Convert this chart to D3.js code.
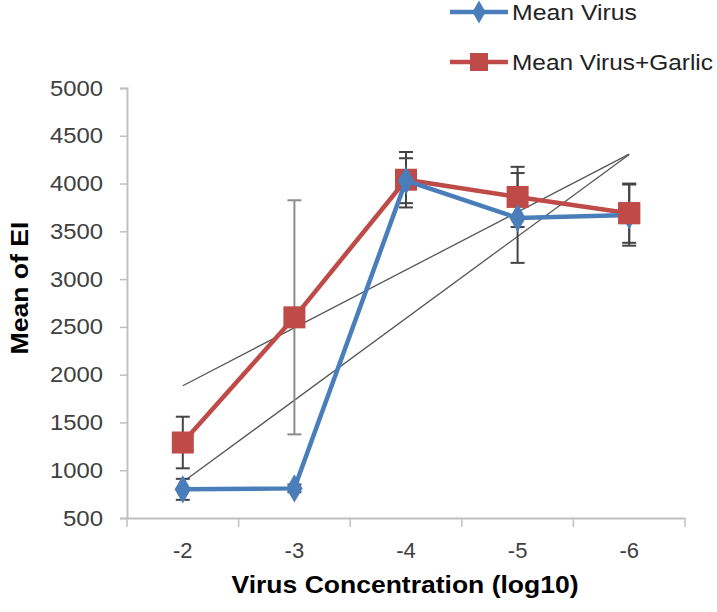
<!DOCTYPE html>
<html><head><meta charset="utf-8">
<script src="https://cdn.jsdelivr.net/npm/d3@7/dist/d3.min.js"></script>
<style>body{margin:0;background:#fff}svg{display:block}</style>
</head><body>
<script>
const categories = ["-2", "-3", "-4", "-5", "-6"];
const virusMean = [800, 810, 4030, 3640, 3670];
const virusErr = [110, 40, 235, 470, 320];
const garlicMean = [1290, 2600, 4040, 3860, 3690];
const garlicErr = [270, 1225, 290, 315, 310];
const yTicks = [500, 1000, 1500, 2000, 2500, 3000, 3500, 4000, 4500, 5000];
const seriesNames = ["Mean Virus", "Mean Virus+Garlic"];

const W = 717, H = 612;
const svg = d3.select("body").append("svg").attr("width", W).attr("height", H);
const font = "Liberation Sans, Arial, sans-serif";

const x = d3.scaleBand().domain(categories).range([127, 685]);
const y = d3.scaleLinear().domain([500, 5000]).range([518, 88]);
const cx = c => x(c) + x.bandwidth() / 2;

// axes
const axisColor = "#c0c0c0";
const yAxis = svg.append("g").attr("transform", "translate(127,0)")
  .call(d3.axisLeft(y).tickValues(yTicks).tickFormat(d3.format("d")).tickSize(7).tickPadding(17));
yAxis.select(".domain").attr("stroke", axisColor).attr("stroke-width", 2);
yAxis.selectAll(".tick line").attr("stroke", axisColor).attr("stroke-width", 1.5);
yAxis.selectAll("text").attr("font-family", font).attr("font-size", 22).attr("fill", "#404040")
  .attr("textLength", d => d === 500 ? 40 : 53).attr("lengthAdjust", "spacingAndGlyphs");

const xAxis = svg.append("g").attr("transform", "translate(0,518)")
  .call(d3.axisBottom(x).tickSize(0).tickPadding(24));
xAxis.select(".domain").attr("stroke", axisColor).attr("stroke-width", 2);
xAxis.selectAll("text").attr("font-family", font).attr("font-size", 22).attr("fill", "#404040");
// boundary ticks
const bounds = categories.map(c => x(c)).concat([x.range()[1]]);
svg.append("g").selectAll("line").data(bounds).join("line")
  .attr("x1", d => d).attr("x2", d => d).attr("y1", 518).attr("y2", 527)
  .attr("stroke", axisColor).attr("stroke-width", 1.5);

// axis titles
svg.append("text").attr("transform", "translate(28,288) rotate(-90)")
  .attr("text-anchor", "middle").attr("font-family", font).attr("font-weight", "bold")
  .attr("font-size", 24).attr("fill", "#000").attr("textLength", 133).attr("lengthAdjust", "spacingAndGlyphs")
  .text("Mean of EI");
svg.append("text").attr("x", 405).attr("y", 593)
  .attr("text-anchor", "middle").attr("font-family", font).attr("font-weight", "bold")
  .attr("font-size", 24).attr("fill", "#000").attr("textLength", 347).attr("lengthAdjust", "spacingAndGlyphs")
  .text("Virus Concentration (log10)");

// trendlines (linear fits of each series)
function fit(vals) {
  const n = vals.length, xs = vals.map((v, i) => i);
  const mx = d3.mean(xs), my = d3.mean(vals);
  const b = d3.sum(xs.map((xi, i) => (xi - mx) * (vals[i] - my))) / d3.sum(xs.map(xi => (xi - mx) ** 2));
  const a = my - b * mx;
  return [a, a + b * (n - 1)];
}
[virusMean, garlicMean].forEach(vals => {
  const [v0, v1] = fit(vals);
  svg.append("line").attr("x1", cx(categories[0])).attr("y1", y(v0))
    .attr("x2", cx(categories[categories.length - 1])).attr("y2", y(v1))
    .attr("stroke", "#555").attr("stroke-width", 1.3);
});

// error bars
function errBars(means, errs, colorFn) {
  const g = svg.append("g");
  categories.forEach((c, i) => {
    const xc = cx(c), top = y(means[i] + errs[i]), bot = y(means[i] - errs[i]);
    const col = colorFn(i);
    g.append("line").attr("x1", xc).attr("x2", xc).attr("y1", top).attr("y2", bot).attr("stroke", col).attr("stroke-width", 2);
    [top, bot].forEach(yy => g.append("line").attr("x1", xc - 7).attr("x2", xc + 7).attr("y1", yy).attr("y2", yy)
      .attr("stroke", col).attr("stroke-width", 2));
  });
}
errBars(virusMean, virusErr, () => "#444");
errBars(garlicMean, garlicErr, i => i === 1 ? "#8c8c8c" : "#444");

const blue = "#4a7ebb", red = "#be4b48";
const line = d3.line().x((d, i) => cx(categories[i])).y(d => y(d));

// red series
svg.append("path").datum(garlicMean).attr("d", line).attr("fill", "none").attr("stroke", red).attr("stroke-width", 4.5);
svg.append("g").selectAll("rect").data(garlicMean).join("rect")
  .attr("x", (d, i) => cx(categories[i]) - 11).attr("y", d => y(d) - 11).attr("width", 22).attr("height", 22)
  .attr("fill", red);
// blue series
svg.append("path").datum(virusMean).attr("d", line).attr("fill", "none").attr("stroke", blue).attr("stroke-width", 4.5);
const diamond = d3.symbol().type(d3.symbolDiamond).size(230);
svg.append("g").selectAll("path").data(virusMean).join("path")
  .attr("d", diamond).attr("transform", (d, i) => `translate(${cx(categories[i])},${y(d)})`).attr("fill", blue);
// the last red marker sits on top
svg.append("rect").attr("x", cx(categories[4]) - 11).attr("y", y(garlicMean[4]) - 11).attr("width", 22).attr("height", 22).attr("fill", red);

// legend
const leg = svg.append("g");
const legItems = [{name: seriesNames[0], color: blue, y: 12, shape: "d"}, {name: seriesNames[1], color: red, y: 62, shape: "s"}];
legItems.forEach(it => {
  leg.append("line").attr("x1", 450).attr("x2", 508).attr("y1", it.y).attr("y2", it.y).attr("stroke", it.color).attr("stroke-width", 4.5);
  if (it.shape === "d") leg.append("path").attr("d", d3.symbol().type(d3.symbolDiamond).size(150)).attr("transform", `translate(479,${it.y})`).attr("fill", it.color);
  else leg.append("rect").attr("x", 470).attr("y", it.y - 9).attr("width", 18).attr("height", 18).attr("fill", it.color);
  leg.append("text").attr("x", 512).attr("y", it.y + 8).attr("font-family", font).attr("font-size", 22).attr("fill", "#222")
    .attr("textLength", it.shape === "d" ? 125 : 201).attr("lengthAdjust", "spacingAndGlyphs").text(it.name);
});
</script>
</body></html>
